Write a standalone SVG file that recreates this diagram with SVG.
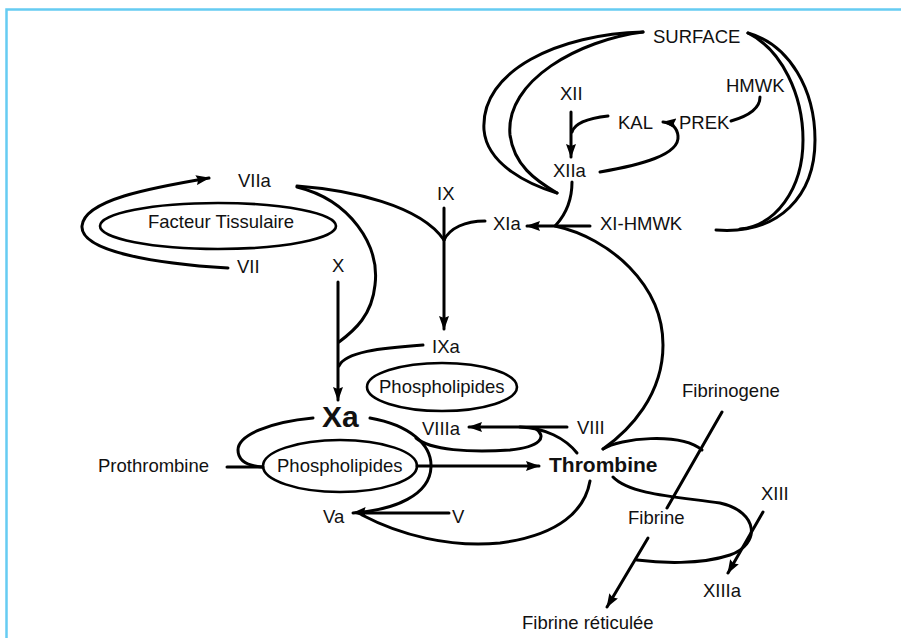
<svg xmlns="http://www.w3.org/2000/svg" width="901" height="638" viewBox="0 0 901 638">
<defs>
<style>
text{font-family:"Liberation Sans",Arial,sans-serif;font-size:18.5px;fill:#111}
.b{font-weight:bold}
.c{fill:none;stroke:#000;stroke-width:3;stroke-linecap:round}
.a{marker-end:url(#ah)}
.e{fill:none;stroke:#000;stroke-width:2.6}
.frame{stroke:#66ccf2;stroke-width:2.5;fill:none}
</style>
<marker id="ah" viewBox="0 0 14 10" refX="13" refY="5" markerWidth="14" markerHeight="10" markerUnits="userSpaceOnUse" orient="auto">
<path d="M0,0 L14,5 L0,10 L2,5 z" fill="#000"/>
</marker>
</defs>
<rect width="901" height="638" fill="#fff"/>
<path class="frame" d="M6.5 638 L6.5 9.5 L901 9.5"/>

<g id="connectors">
<!-- SURFACE left crescent -->
<path class="c" d="M643 32 C560 34,480 70,484 130 C487 165,530 185,557 193"/>
<path class="c" d="M643 32 C580 40,505 80,510 135 C514 165,535 180,557 193"/>
<!-- SURFACE right crescent -->
<path class="c" d="M748 33 C790 45,815 90,815 140 C815 195,780 235,716 230"/>
<path class="c" d="M748 33 C782 50,803 95,803 140 C803 190,775 226,740 229"/>
<!-- XII -> XIIa -->
<path class="c a" d="M571 112 L571 157"/>
<!-- KAL joins -->
<path class="c" d="M608 116 C590 118,575 122,572 132"/>
<!-- XIIa -> KAL -->
<path class="c a" d="M600 172 C640 165,680 155,678 136 C677 127,672 123,663 122"/>
<!-- HMWK -> PREK -->
<path class="c" d="M760 97 C760 110,745 117,731 121"/>
<!-- XIIa -> XIa -->
<path class="c" d="M572 182 C572 200,565 215,556 225"/>
<!-- XI-HMWK -> XIa -->
<path class="c a" d="M590 226 L527 226"/>
<!-- XIa big arc to Thrombine -->
<path class="c" d="M555 226 C610 238,663 285,663 345 C663 395,630 430,603 449"/>
<!-- XIa to IX junction -->
<path class="c" d="M485 221 C465 221,450 228,444 240"/>
<!-- VIIa to IX junction -->
<path class="c" d="M297 186 C350 190,420 205,444 240"/>
<!-- IX -> IXa -->
<path class="c a" d="M444 208 L444 329"/>
<!-- VIIa -> X line -->
<path class="c" d="M297 187 C350 200,380 245,375 285 C372 315,355 330,339 342"/>
<!-- VII -> VIIa loop -->
<path class="c a" d="M228 268 C160 264,80 252,82 226 C84 200,150 188,209 178"/>
<!-- X -> Xa -->
<path class="c a" d="M338 282 L338 400"/>
<!-- IXa join -->
<path class="c" d="M423 345 C380 348,345 352,339 366"/>
<!-- Xa left loop to Prothrombine -->
<path class="c" d="M313 418 C270 422,238 435,238 450 C238 462,250 466,262 467"/>
<path class="c" d="M227 467 L263 467"/>
<!-- Xa right loop -> Va -->
<path class="c a" d="M370 418 C410 425,432 445,431 467 C430 495,395 510,353 513"/>
<!-- V -> Va -->
<path class="c" d="M449 513 L365 513"/>
<!-- Phospholipides -> Thrombine -->
<path class="c a" d="M417 466 L539 466"/>
<!-- Thrombine bottom loop to Va -->
<path class="c" d="M590 481 C585 510,560 535,500 543 C450 548,400 535,362 515"/>
<!-- VIII -> VIIIa -->
<path class="c a" d="M567 427 L469 427"/>
<!-- VIIIa loop -->
<path class="c" d="M416 438 C430 450,470 453,510 450 C540 447,548 437,535 428"/>
<path class="c" d="M520 427 C545 428,565 438,577 453"/>
<!-- Thrombine upper curve to fibrinogen -->
<path class="c" d="M603 449 C620 438,680 432,702 450"/>
<!-- Thrombine lower loop -->
<path class="c" d="M613 477 C630 495,680 497,720 503 C760 512,760 545,730 555 C700 565,660 563,637 560"/>
<!-- Fibrinogene line -->
<path class="c" d="M722 412 L667 508"/>
<!-- Fibrine -> Fibrine reticulee -->
<path class="c a" d="M648 538 L607 607"/>
<!-- XIII -> XIIIa -->
<path class="c a" d="M763 512 L728 573"/>
</g>

<g id="n-surface"><text x="653" y="43">SURFACE</text></g>
<g id="n-hmwk"><text x="726" y="92">HMWK</text></g>
<g id="n-xii"><text x="560" y="100">XII</text></g>
<g id="n-kal"><text x="618" y="129">KAL</text></g>
<g id="n-prek"><text x="679" y="129">PREK</text></g>
<g id="n-xiia"><text x="553" y="177">XIIa</text></g>
<g id="n-xia"><text x="493" y="230">XIa</text></g>
<g id="n-xihmwk"><text x="600" y="230">XI-HMWK</text></g>
<g id="n-viia"><text x="238" y="187">VIIa</text></g>
<g id="n-ix"><text x="437" y="200">IX</text></g>
<g id="n-ft"><ellipse class="e" cx="218" cy="226" rx="118" ry="23"/><text x="148" y="228">Facteur Tissulaire</text></g>
<g id="n-vii"><text x="237" y="273">VII</text></g>
<g id="n-x"><text x="332" y="272">X</text></g>
<g id="n-ixa"><text x="432" y="353">IXa</text></g>
<g id="n-phos1"><ellipse class="e" cx="442" cy="387" rx="75" ry="24"/><text x="379" y="393">Phospholipides</text></g>
<g id="n-xa"><text class="b" x="322" y="427" style="font-size:30px">Xa</text></g>
<g id="n-viiia"><text x="422" y="435">VIIIa</text></g>
<g id="n-viii"><text x="577" y="434">VIII</text></g>
<g id="n-phos2"><ellipse class="e" cx="340" cy="466" rx="77" ry="26"/><text x="277" y="472">Phospholipides</text></g>
<g id="n-prothrombine"><text x="98" y="472">Prothrombine</text></g>
<g id="n-thrombine"><text class="b" x="549" y="472" style="font-size:21px">Thrombine</text></g>
<g id="n-fibrinogene"><text x="682" y="397">Fibrinogene</text></g>
<g id="n-va"><text x="323" y="523">Va</text></g>
<g id="n-v"><text x="452" y="523">V</text></g>
<g id="n-xiii"><text x="761" y="500">XIII</text></g>
<g id="n-fibrine"><text x="628" y="524">Fibrine</text></g>
<g id="n-xiiia"><text x="703" y="597">XIIIa</text></g>
<g id="n-fibret"><text x="522" y="629">Fibrine réticulée</text></g>
</svg>
